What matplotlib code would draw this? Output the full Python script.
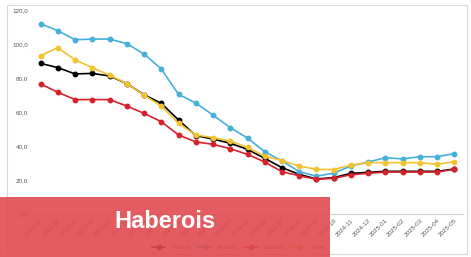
import matplotlib.pyplot as plt
from matplotlib.patches import Rectangle

# --- データ ---
months = ['2023-05', '2023-06', '2023-07', '2023-08', '2023-09', '2023-10',
          '2023-11', '2023-12', '2024-01', '2024-02', '2024-03', '2024-04',
          '2024-05', '2024-06', '2024-07', '2024-08', '2024-09', '2024-10',
          '2024-11', '2024-12', '2025-01', '2025-02', '2025-03', '2025-04',
          '2025-05']
turkiye = [88.6, 86.1, 82.4, 82.7, 81.2, 76.7, 70.2, 65.1, 55.3, 46.1, 44.1,
           41.6, 38.0, 32.7, 27.3, 23.3, 20.6, 21.4, 23.9, 24.5, 25.1, 25.1,
           25.1, 25.1, 26.5]
ankara = [111.9, 107.8, 102.5, 102.9, 102.9, 100.2, 94.1, 85.3, 70.4, 65.3,
          58.2, 50.8, 44.7, 36.6, 31.2, 24.9, 22.2, 24.1, 28.2, 30.6, 33.1,
          32.4, 33.7, 33.7, 35.5]
istanbul = [76.5, 71.6, 67.3, 67.3, 67.3, 63.5, 59.2, 54.3, 46.5, 42.4, 41.0,
            38.4, 35.1, 30.6, 24.9, 22.5, 20.4, 21.0, 23.1, 23.9, 24.7, 24.7,
            24.7, 24.7, 26.3]
izmir = [93.1, 97.8, 90.6, 86.1, 81.6, 76.7, 70.0, 63.5, 53.3, 46.5, 44.9,
         42.9, 39.2, 34.1, 31.4, 28.2, 26.3, 26.1, 28.8, 30.2, 30.2, 30.2,
         30.2, 29.2, 30.8]
yticks = [0, 20, 40, 60, 80, 100, 120]

series = [('Türkiye', turkiye, '#000000'),
          ('Ankara', ankara, '#45b0da'),
          ('İstanbul', istanbul, '#d6222c'),
          ('İzmir', izmir, '#f2c230')]

plt.rcParams['font.family'] = ['Liberation Sans', 'DejaVu Sans']

fig = plt.figure(figsize=(4.71, 2.57), dpi=100)
ax = fig.add_axes([32 / 471, 43 / 257, 431 / 471, 204 / 257])

x = list(range(len(months)))
for name, vals, col in series:
    ax.plot(x, vals, color=col, linewidth=1.2, marker='o', markersize=3.2,
            label=name)

ax.set_xlim(-0.5, len(months) - 0.5)
ax.set_ylim(0, 120)
ax.set_yticks(yticks)
ax.set_yticklabels([f'{v:.1f}'.replace('.', ',') for v in yticks])
ax.set_xticks(x)
ax.set_xticklabels(months, rotation=45, ha='right', rotation_mode='anchor')
ax.tick_params(axis='both', labelsize=4.5, colors='#595959', length=0, pad=3)

for s in ['top', 'right', 'left']:
    ax.spines[s].set_visible(False)
ax.spines['bottom'].set_color('#d0d0d0')
ax.spines['bottom'].set_linewidth(0.8)

ax.legend(loc='center', bbox_to_anchor=(238 / 471, 10 / 257),
          bbox_transform=fig.transFigure, ncol=4, frameon=False,
          fontsize=4.5, handlelength=2.2, columnspacing=1.2,
          labelcolor='#595959')

# 外枠
fig.add_artist(Rectangle((7 / 471, 3 / 257), 460 / 471, 249 / 257,
                         transform=fig.transFigure, fill=False,
                         edgecolor='#d9d9d9', linewidth=0.8))

# 透かし帯
fig.add_artist(Rectangle((0, 0), 330 / 471, 60 / 257,
                         transform=fig.transFigure, facecolor='#e04a50',
                         alpha=0.9, edgecolor='none', zorder=10))
fig.text(165 / 471, 35 / 257, 'Haberois', color='white', fontsize=17,
         fontweight='bold', ha='center', va='center', zorder=11)

fig.savefig('out.png', dpi=100)
